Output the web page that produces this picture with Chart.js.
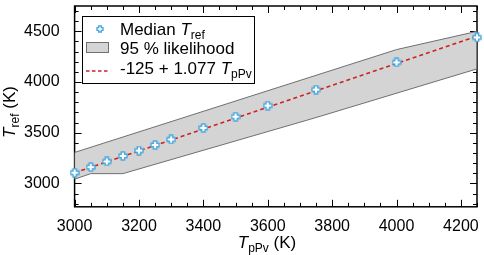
<!DOCTYPE html>
<html>
<head>
<meta charset="utf-8">
<script src="https://cdn.jsdelivr.net/npm/chart.js@4.4.1/dist/chart.umd.min.js"></script>
<style>
  html, body { margin: 0; padding: 0; background: #fff; }
</style>
</head>
<body>
<canvas id="chart" width="484" height="255"></canvas>
<script>
// median T_ref per T_pPv
var medianX = [3000, 3050, 3100, 3150, 3200, 3250, 3300, 3400, 3500, 3600, 3750, 4000, 4250];
var medianY = [3106, 3161, 3217, 3272, 3324, 3379, 3434, 3548, 3658, 3768, 3926, 4194, 4440];

// 95 % likelihood band outline
var upperX = [3000, 4000, 4250];
var upperY = [3306, 4320, 4500];
var lowerX = [3000, 3050, 3150, 3750, 4250];
var lowerY = [3042, 3097, 3097, 3650, 4130];

// fit -125 + 1.077 T_pPv
var fitX = [3000, 4250];
var fitY = [3106, 4452];

var xTicks = [3000, 3200, 3400, 3600, 3800, 4000, 4200];
var yTicks = [3000, 3500, 4000, 4500];

var FONT = "'Liberation Sans', Arial, sans-serif";
var BLUE = '#4ea8de';
var RED = '#cc2222';

function pts(xs, ys) {
  return xs.map(function (x, i) { return {x: x, y: ys[i]}; });
}

var band = pts(upperX, upperY);
for (var i = lowerX.length - 1; i >= 0; i--) band.push({x: lowerX[i], y: lowerY[i]});
band.push({x: upperX[0], y: upperY[0]});

function plusMarker(size) {
  var c = document.createElement('canvas');
  c.width = size; c.height = size;
  var g = c.getContext('2d');
  var o = size / 2, b = size / 2 - 1, a = size * 0.17;
  var p = [[-a,-b],[a,-b],[a,-a],[b,-a],[b,a],[a,a],[a,b],[-a,b],[-a,a],[-b,a],[-b,-a],[-a,-a]];
  g.beginPath();
  p.forEach(function (q, k) { k ? g.lineTo(o + q[0], o + q[1]) : g.moveTo(o + q[0], o + q[1]); });
  g.closePath();
  g.fillStyle = '#fff';
  g.fill();
  g.strokeStyle = BLUE;
  g.lineWidth = 1.4;
  g.stroke();
  return c;
}
var marker = plusMarker(10);
var legendMarker = plusMarker(8);

function drawRich(ctx, parts, x, y) {
  parts.forEach(function (p) {
    ctx.font = p[1];
    ctx.fillText(p[0], x, y + (p[2] || 0));
    x += ctx.measureText(p[0]).width;
  });
}
function richWidth(ctx, parts) {
  var w = 0;
  parts.forEach(function (p) { ctx.font = p[1]; w += ctx.measureText(p[0]).width; });
  return w;
}

function noPad(s) {
  s.paddingTop = 0; s.paddingBottom = 0; s.paddingLeft = 0; s.paddingRight = 0;
}

var decor = {
  id: 'decor',
  beforeDatasetsDraw: function (chart) {
    var ctx = chart.ctx, a = chart.chartArea;
    var xs = chart.scales.x, ys = chart.scales.y;
    ctx.save();
    ctx.strokeStyle = '#000';
    ctx.lineWidth = 1;
    ctx.beginPath();
    for (var v = 3000; v <= 4250; v += 50) {
      var px = Math.round(xs.getPixelForValue(v)) + 0.5;
      var len = xTicks.indexOf(v) >= 0 ? 7 : 4;
      ctx.moveTo(px, a.bottom); ctx.lineTo(px, a.bottom - len);
      ctx.moveTo(px, a.top); ctx.lineTo(px, a.top + len);
    }
    for (var w = 2800; w <= 4700; w += 100) {
      var py = Math.round(ys.getPixelForValue(w)) + 0.5;
      var l2 = yTicks.indexOf(w) >= 0 ? 7 : 4;
      ctx.moveTo(a.left, py); ctx.lineTo(a.left + l2, py);
      ctx.moveTo(a.right, py); ctx.lineTo(a.right - l2, py);
    }
    ctx.stroke();
    ctx.lineWidth = 1.5;
    ctx.strokeRect(a.left, a.top, a.right - a.left, a.bottom - a.top);
    ctx.restore();
  },
  afterDraw: function (chart) {
    var ctx = chart.ctx;
    ctx.save();
    ctx.textBaseline = 'alphabetic';
    var f = '17px ' + FONT, fi = 'italic 17px ' + FONT, fs = '12px ' + FONT;

    // legend
    ctx.fillStyle = '#fff';
    ctx.fillRect(82, 16, 172, 67);
    ctx.strokeStyle = '#000';
    ctx.lineWidth = 1;
    ctx.strokeRect(82.5, 16.5, 172, 67);
    ctx.drawImage(legendMarker, 100 - 4, 29 - 4);
    ctx.fillStyle = '#d4d4d4';
    ctx.fillRect(86, 42, 23, 11);
    ctx.strokeStyle = '#707070';
    ctx.strokeRect(86.5, 42.5, 22, 10);
    ctx.strokeStyle = RED;
    ctx.lineWidth = 1.6;
    ctx.setLineDash([3.5, 2.5]);
    ctx.beginPath(); ctx.moveTo(86, 71); ctx.lineTo(110, 71); ctx.stroke();
    ctx.setLineDash([]);
    ctx.fillStyle = '#000';
    drawRich(ctx, [['Median ', f], ['T', fi], ['ref', fs, 4]], 120, 35);
    drawRich(ctx, [['95 % likelihood', f]], 120, 54);
    drawRich(ctx, [['-125 + 1.077 ', f], ['T', fi], ['pPv', fs, 4]], 120, 74);

    // x title
    var xt = [['T', fi], ['pPv', fs, 4], [' (K)', f]];
    drawRich(ctx, xt, 267 - richWidth(ctx, xt) / 2, 248);

    // y title
    var yt = [['T', fi], ['ref', fs, 4], [' (K)', f]];
    ctx.translate(15, 112);
    ctx.rotate(-Math.PI / 2);
    drawRich(ctx, yt, -richWidth(ctx, yt) / 2, 0);
    ctx.restore();
  }
};

function plain(v) { return String(v); }

var chart = new Chart('chart', {
  type: 'scatter',
  data: {
    datasets: [
      {
        label: 'Median T_ref',
        data: pts(medianX, medianY),
        pointStyle: marker,
        pointRadius: 5,
        clip: false
      },
      {
        label: '-125 + 1.077 T_pPv',
        data: pts(fitX, fitY),
        showLine: true,
        borderColor: RED,
        borderWidth: 1.6,
        borderDash: [4, 3],
        pointRadius: 0
      },
      {
        label: '95 % likelihood',
        data: band,
        showLine: true,
        fill: 'shape',
        backgroundColor: '#d4d4d4',
        borderColor: '#707070',
        borderWidth: 1,
        pointRadius: 0,
        tension: 0
      }
    ]
  },
  options: {
    responsive: false,
    animation: false,
    layout: { padding: { left: 17, right: 7, top: 1, bottom: 17 } },
    plugins: { legend: { display: false }, tooltip: { enabled: false } },
    scales: {
      x: {
        type: 'linear',
        min: 3000,
        max: 4250,
        afterBuildTicks: function (s) { s.ticks = xTicks.map(function (v) { return {value: v}; }); },
        afterFit: noPad,
        ticks: { padding: 2, color: '#000', font: { family: FONT, size: 16 }, maxRotation: 0, autoSkip: false, callback: plain },
        grid: { display: false },
        border: { display: false }
      },
      y: {
        type: 'linear',
        min: 2770,
        max: 4750,
        afterBuildTicks: function (s) { s.ticks = yTicks.map(function (v) { return {value: v}; }); },
        afterFit: noPad,
        ticks: { padding: 7, color: '#000', font: { family: FONT, size: 16 }, autoSkip: false, callback: plain },
        grid: { display: false },
        border: { display: false }
      }
    }
  },
  plugins: [decor]
});
</script>
</body>
</html>
